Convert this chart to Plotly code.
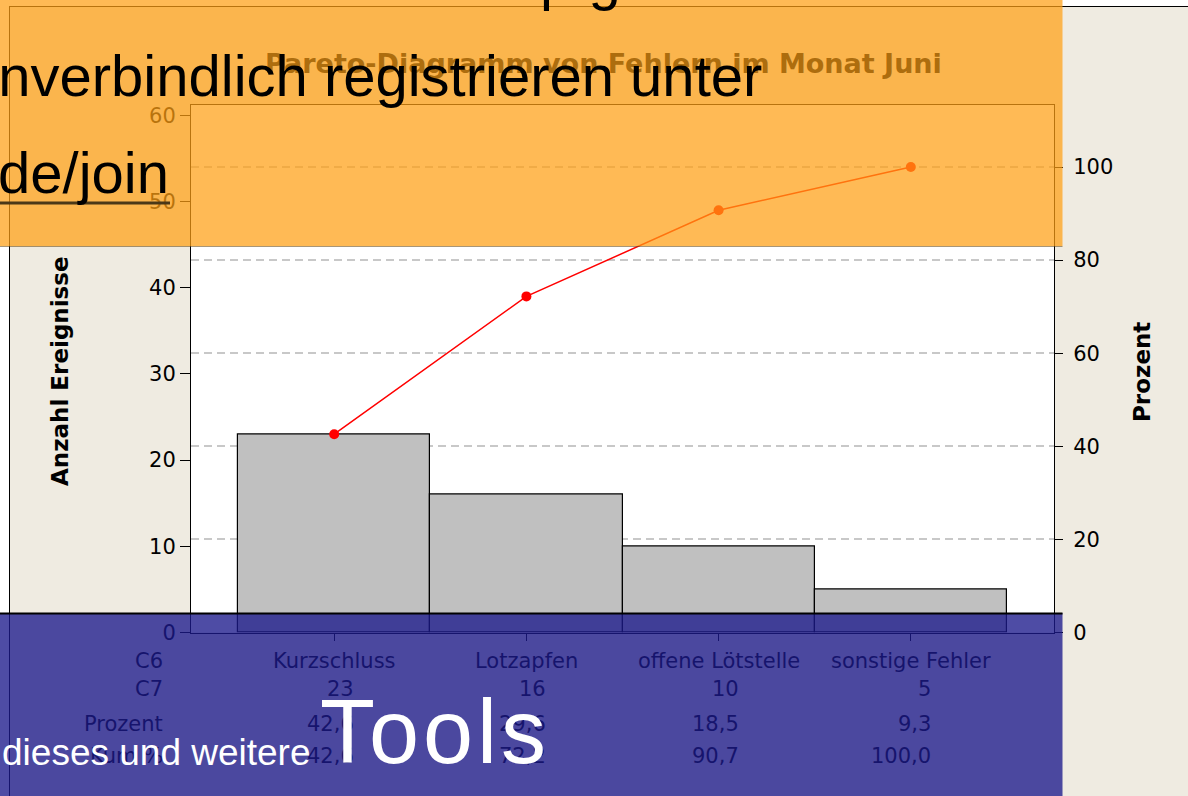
import plotly.graph_objects as go

W, H = 1188, 796

# Pareto data: defect categories, counts and percentages
categories = ["Kurzschluss", "Lotzapfen", "offene Lötstelle", "sonstige Fehler"]
counts = [23, 16, 10, 5]
percent = [42.6, 29.6, 18.5, 9.3]
cum_percent = [42.6, 72.2, 90.7, 100.0]
count_ticks = [0, 10, 20, 30, 40, 50, 60]
pct_ticks = [0, 20, 40, 60, 80, 100]
row_labels = ["C6", "C7", "Prozent", "Kum %"]

total = sum(counts)
count_max = 61.25
pct_max = count_max / total * 100

BEIGE = "#EFEBE1"
AX_FONT = "DejaVu Sans"
TAB_FONT = "DejaVu Sans"
BAN_FONT = "Liberation Sans"


def fx(x):
    return x / W


def fy(y):
    return 1 - y / H


def de(v):
    return f"{v:.1f}".replace(".", ",")


fig = go.Figure()
fig.add_bar(
    x=categories, y=counts, width=1, yaxis="y",
    marker=dict(color="#C0C0C0", line=dict(color="black", width=1.2)),
    hoverinfo="skip",
)
fig.add_scatter(
    x=categories, y=cum_percent, yaxis="y2", mode="lines+markers",
    line=dict(color="#FF0000", width=1.5),
    marker=dict(color="#FF0000", size=10),
    hoverinfo="skip",
)

shapes = [
    # white page margin around the graph window
    dict(type="rect", xref="paper", yref="paper", x0=0, x1=fx(9), y0=0, y1=1,
         fillcolor="white", line=dict(width=0), layer="below"),
    dict(type="rect", xref="paper", yref="paper", x0=0, x1=1, y0=fy(6), y1=1,
         fillcolor="white", line=dict(width=0), layer="below"),
    dict(type="line", xref="paper", yref="paper", x0=fx(9.5), x1=fx(9.5), y0=0, y1=fy(6),
         line=dict(color="black", width=1), layer="below"),
    dict(type="line", xref="paper", yref="paper", x0=fx(9), x1=1, y0=fy(6.5), y1=fy(6.5),
         line=dict(color="black", width=1), layer="below"),
    # banners
    dict(type="rect", xref="paper", yref="paper", x0=0, x1=fx(1062.5), y0=fy(246), y1=1,
         fillcolor="rgba(255,160,19,0.72)", line=dict(width=0), layer="above"),
    dict(type="line", xref="paper", yref="paper", x0=0, x1=fx(1062.5), y0=fy(246.5), y1=fy(246.5),
         line=dict(color="rgba(110,80,30,0.6)", width=1), layer="above"),
    dict(type="rect", xref="paper", yref="paper", x0=0, x1=fx(1062.5), y0=0, y1=fy(613),
         fillcolor="rgba(28,26,140,0.78)", line=dict(width=0), layer="above"),
    dict(type="line", xref="paper", yref="paper", x0=0, x1=fx(1062.5), y0=fy(613.5), y1=fy(613.5),
         line=dict(color="black", width=2), layer="above"),
    # link underline
    dict(type="line", xref="paper", yref="paper", x0=0, x1=fx(170), y0=fy(203), y1=fy(203),
         line=dict(color="#4A3818", width=3), layer="above"),
]

annotations = [
    dict(text="<b>Pareto-Diagramm von Fehlern im Monat Juni</b>", x=fx(603), y=fy(63),
         font=dict(family=AX_FONT, size=27, color="#AD6D0E")),
    dict(text="<b>Anzahl Ereignisse</b>", x=fx(60), y=fy(371), textangle=-90,
         font=dict(family=AX_FONT, size=23, color="black")),
    dict(text="<b>Prozent</b>", x=fx(1142), y=fy(372), textangle=-90,
         font=dict(family=AX_FONT, size=23, color="black")),
]

# table below the chart
row_y = [661, 689, 724, 756]
TAB_COLOR = "#16146D"
for lab, ry in zip(row_labels, row_y):
    annotations.append(dict(text=lab, x=fx(165), y=fy(ry), xanchor="right",
                            font=dict(family=TAB_FONT, size=21, color=TAB_COLOR)))
rows = [categories, [str(c) for c in counts], [de(p) for p in percent], [de(p) for p in cum_percent]]
for r, (vals, ry) in enumerate(zip(rows, row_y)):
    for cat, v in zip(categories, vals):
        annotations.append(dict(
            text=v, xref="x", x=cat, y=fy(ry),
            xanchor="center" if r == 0 else "right", xshift=0 if r == 0 else 22,
            font=dict(family=TAB_FONT, size=21, color=TAB_COLOR)))

# banner texts
annotations += [
    dict(text="Melden Sie sich im Shop gratis und", x=fx(-68), y=fy(-21.3), xanchor="left",
         font=dict(family=BAN_FONT, size=58, color="black")),
    dict(text="unverbindlich registrieren unter", x=fx(-36), y=fy(75.7), xanchor="left",
         font=dict(family=BAN_FONT, size=58, color="black")),
    dict(text="de/join", x=fx(-4), y=fy(172.7), xanchor="left",
         font=dict(family=BAN_FONT, size=58, color="black")),
    dict(text="dieses und weitere", x=fx(0), y=fy(752), xanchor="left",
         font=dict(family=BAN_FONT, size=37, color="white")),
    dict(text='<span style="letter-spacing:4px">Tools</span>', x=fx(318), y=fy(732),
         xanchor="left", font=dict(family=BAN_FONT, size=90, color="white")),
]
for a in annotations:
    a.setdefault("xref", "paper")
    a.setdefault("yref", "paper")
    a.setdefault("showarrow", False)
    a.setdefault("xanchor", "center")
    a.setdefault("yanchor", "middle")

fig.update_layout(
    width=W, height=H, autosize=False, margin=dict(l=0, r=0, t=0, b=0, pad=0),
    paper_bgcolor=BEIGE, plot_bgcolor="white",
    showlegend=False, bargap=0,
    xaxis=dict(
        domain=[fx(191), fx(1054)], type="category", range=[-0.745, 3.745],
        showline=True, mirror=True, linecolor="black", linewidth=1,
        ticks="outside", ticklen=7, tickcolor="black", showticklabels=False,
        showgrid=False, zeroline=False, automargin=False,
    ),
    yaxis=dict(
        domain=[fy(632.5), fy(104.5)], range=[0, count_max], tickvals=count_ticks,
        showline=True, mirror=True, linecolor="black", linewidth=1,
        ticks="outside", ticklen=10, tickcolor="black",
        tickfont=dict(family=AX_FONT, size=21, color="black"),
        showgrid=False, zeroline=False, automargin=False,
    ),
    yaxis2=dict(
        overlaying="y", side="right", range=[0, pct_max], tickvals=pct_ticks,
        showline=True, linecolor="black", linewidth=1,
        ticks="outside", ticklen=8, tickcolor="black", ticklabelstandoff=6,
        tickfont=dict(family=AX_FONT, size=21, color="black"),
        showgrid=True, gridcolor="#C8C8C8", gridwidth=2, griddash="8px,5px",
        zeroline=False, automargin=False,
    ),
    shapes=shapes, annotations=annotations,
)

fig.write_html("out.html")
